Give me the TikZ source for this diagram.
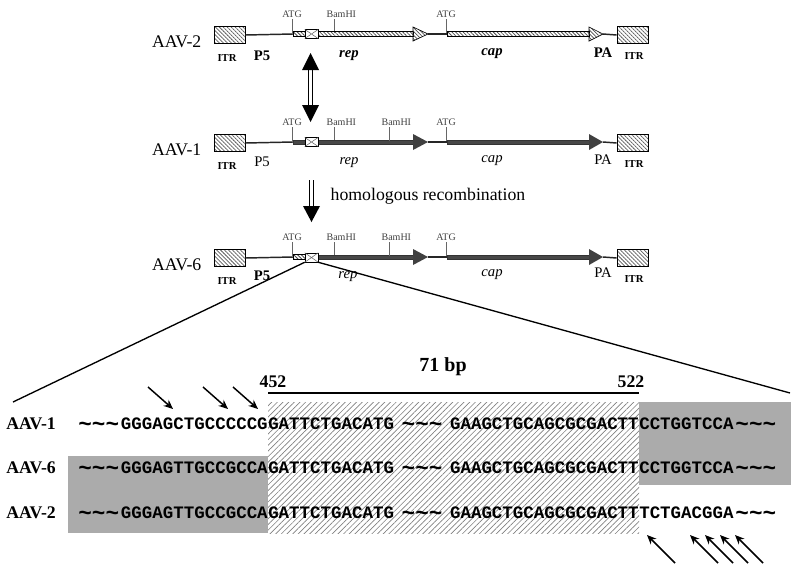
\documentclass[tikz,border=0pt]{standalone}
\usepackage{fontspec}
\setmainfont{Liberation Serif}
\setmonofont{Liberation Mono}
\usetikzlibrary{patterns.meta,arrows.meta,calc,positioning}
\begin{document}
\begin{tikzpicture}[>={Stealth[length=7pt,width=6pt]},x=0.75pt,y=-0.75pt,
  rowlbl/.style={font=\fontsize{13.3}{15}\selectfont},
  seqlbl/.style={font=\fontsize{13.3}{15}\selectfont\bfseries,inner sep=0pt},
  seq/.style={font=\fontsize{13.1}{15}\selectfont\ttfamily\bfseries,inner sep=0pt},
  site/.style={font=\fontsize{7.5}{8}\selectfont,inner sep=0.6pt,text=black!75},
  itrbox/.style={draw,line width=0.5pt,minimum width=23.25pt,minimum height=12.75pt,inner sep=0pt,
    pattern={Lines[angle=-45,distance=2.1pt,line width=0.55pt]},pattern color=black!65},
  itrlbl/.style={font=\fontsize{8}{9}\selectfont\bfseries},
  glbl/.style={font=\fontsize{11}{12}\selectfont},
  dnaline/.style={line width=1.1pt,black!85},
  tick/.style={line width=0.4pt,black!60},
  hbar/.style={draw,line width=0.5pt,pattern={Lines[angle=-45,distance=2pt,line width=0.6pt]},pattern color=black!70},
  dbar/.style={fill=black!72,draw=black!80,line width=0.4pt},
  xbox/.style={draw,fill=white,line width=0.4pt,minimum width=9.75pt,minimum height=6.5pt,inner sep=0pt},
  dblshaft/.style={double,double distance=1.8pt,line width=1pt},
  seqarrow/.style={->,line width=1.1pt},
  hatchzone/.style={pattern={Lines[angle=45,distance=3pt,line width=0.5pt]},pattern color=black!50},
  greyzone/.style={fill=black!33}]
\def\seqtld{\raisebox{-1.5pt}{\fontsize{17}{18}\selectfont\textasciitilde\textasciitilde\textasciitilde}}
\useasboundingbox (0,0) rectangle (800,572);

% gene maps
\foreach \i/\y/\nm in {2/34/AAV-2,1/142/AAV-1,6/257/AAV-6}{
  \node[rowlbl,anchor=east] (lbl\i) at (206,\y+8) {\nm};
  \node[itrbox] (itrL\i) at (229.5,\y+1) {};
  \node[itrbox] (itrR\i) at (632.5,\y+1) {};
  \coordinate (atg\i) at (293,\y);
  \coordinate (repe\i) at (428,\y);
  \coordinate (caps\i) at (447,\y);
  \coordinate (cape\i) at (603,\y);
  \draw[dnaline] (itrL\i.east) -- (atg\i);
  \draw[dnaline] (repe\i) -- (caps\i);
  \draw[dnaline] (cape\i) -- (itrR\i.west);
  \draw[tick] (292,\y-1) -- (292,\y-15) node[site,above] (atgA\i) {ATG};
  \draw[tick] (446,\y-1) -- (446,\y-15) node[site,above] (atgB\i) {ATG};
  \draw[tick] (334,\y-1) -- (334,\y-15) node[site,above,xshift=5.5pt] (bam\i) {BamHI};
  \node[itrlbl] (itrtL\i) at (227,\y+24) {ITR};
  \node[itrlbl] (itrtR\i) at (634,\y+22) {ITR};
}

% AAV-2
\draw[hbar] (293,31.5) rectangle (413,36.5);
\draw[hbar] (413,27) -- (428,34) -- (413,41) -- cycle;
\draw[hbar] (447,31.5) rectangle (589,36.5);
\draw[hbar] (589,27) -- (603,34) -- (589,41) -- cycle;
\node[xbox] (xb2) at (311.5,34) {};
\draw[tick] (xb2.north west) -- (xb2.south east) (xb2.south west) -- (xb2.north east);
\node[glbl] (p5a) at (262,56) {\textbf{P5}};
\node[glbl] (repa) at (349,56) {\textbf{\textit{rep}}};
\node[glbl] (capa) at (492,54) {\textbf{\textit{cap}}};
\node[glbl] (paa) at (603,53) {\textbf{PA}};

% AAV-1
\draw[dbar] (293,140) rectangle (413,144.5);
\fill[black!75] (413,134) -- (428,142) -- (413,150) -- cycle;
\draw[dbar] (447,140) rectangle (589,144.5);
\fill[black!75] (589,134) -- (603,142) -- (589,150) -- cycle;
\node[xbox] (xb1) at (311.5,142) {};
\draw[tick] (xb1.north west) -- (xb1.south east) (xb1.south west) -- (xb1.north east);
\draw[tick] (389,141) -- (389,127) node[site,above,xshift=5.5pt] (bamB1) {BamHI};
\node[glbl] (p5b) at (262,162) {P5};
\node[glbl] (repb) at (349,163) {\textit{rep}};
\node[glbl] (capb) at (492,161) {\textit{cap}};
\node[glbl] (pab) at (603,160) {PA};

% AAV-6
\draw[hbar] (293,254.5) rectangle (305,259.5);
\draw[dbar] (318,255) rectangle (413,259.5);
\fill[black!75] (413,249) -- (428,257) -- (413,265) -- cycle;
\draw[dbar] (447,255) rectangle (589,259.5);
\fill[black!75] (589,249) -- (603,257) -- (589,265) -- cycle;
\node[xbox,minimum height=6.75pt] (zbox) at (311.5,257.5) {};
\draw[tick] (zbox.north west) -- (zbox.south east) (zbox.south west) -- (zbox.north east);
\draw[tick] (389,256) -- (389,242) node[site,above,xshift=5.5pt] (bamB6) {BamHI};
\node[glbl] (p5c) at (262,276) {\textbf{P5}};
\node[glbl] (repc) at (348,277) {\textit{rep}};
\node[glbl] (capc) at (492,275) {\textit{cap}};
\node[glbl] (pac) at (603,273) {PA};

% arrows between the maps
\coordinate (swT) at (310.5,53);
\coordinate (swB) at (310.5,122);
\draw[dblshaft] (310.5,68) -- (310.5,107);
\fill (302,70) -- (swT) -- (319,70) -- cycle;
\fill (302,105) -- (swB) -- (319,105) -- cycle;
\coordinate (hrT) at (311.5,180);
\coordinate (hrB) at (311.5,222);
\draw[dblshaft] (hrT) -- (311.5,208);
\fill (303,206) -- (hrB) -- (320,206) -- cycle;
\node[rowlbl,anchor=west] (homrec) at (326,196) {homologous recombination};

% zoom on the junction
\coordinate (zl) at (13,402);
\coordinate (zr) at (790,393);
\draw[line width=1pt] (zbox.south west) -- (zl);
\draw[line width=1pt] (zbox.south east) -- (zr);

\fill[greyzone] (639,402) rectangle (791,485);
\fill[greyzone] (68,456) rectangle (268,533);
\fill[hatchzone] (268,402) rectangle (639,533);

\coordinate (b452) at (268,393);
\coordinate (b522) at (639,393);
\draw[line width=0.9pt] (b452) -- (b522);
\node[seqlbl] (n452) at (273,382) {452};
\node[seqlbl] (n522) at (631,382) {522};
\node[seqlbl,font=\fontsize{15}{16}\selectfont\bfseries] (bp) at (443,367) {71 bp};

\foreach \i/\y/\nm/\sl/\sr in {1/423/AAV-1/GGGAGCTGCCCCCG/CCTGGTCCA,
    6/467/AAV-6/GGGAGTTGCCGCCA/CCTGGTCCA,2/512/AAV-2/GGGAGTTGCCGCCA/TCTGACGGA}{
  \node[seqlbl,anchor=base west] (sq\i) at (6,\y+6.5) {\nm};
  \node[seq,anchor=base east] (sL\i) at (268,\y+6) {\sl};
  \node[seq,anchor=base east] (tA\i) at ([xshift=-1pt]sL\i.base west) {\seqtld};
  \node[seq,anchor=base west] (sM\i) at (268,\y+6) {GATTCTGACATG};
  \node[seq,anchor=base east] (sN\i) at (639,\y+6) {GAAGCTGCAGCGCGACTT};
  \node[seq,anchor=base] (tB\i) at ($(sM\i.base east)!0.5!(sN\i.base west)$) {\seqtld};
  \node[seq,anchor=base west] (sR\i) at (639,\y+6) {\sr};
  \node[seq,anchor=base west] (tC\i) at ([xshift=1pt]sR\i.base east) {\seqtld};
}

% mismatch arrows
\foreach \x [count=\k] in {148,203,233}{
  \coordinate (pa\k) at (\x,387);
  \coordinate (pb\k) at (\x+25,409);
  \draw[seqarrow] (pa\k) -- (pb\k);
}
\foreach \x [count=\k] in {675,718,733,748,763}{
  \coordinate (qa\k) at (\x,563);
  \coordinate (qb\k) at (\x-28,535);
  \draw[seqarrow] (qa\k) -- (qb\k);
}
\end{tikzpicture}
\end{document}
